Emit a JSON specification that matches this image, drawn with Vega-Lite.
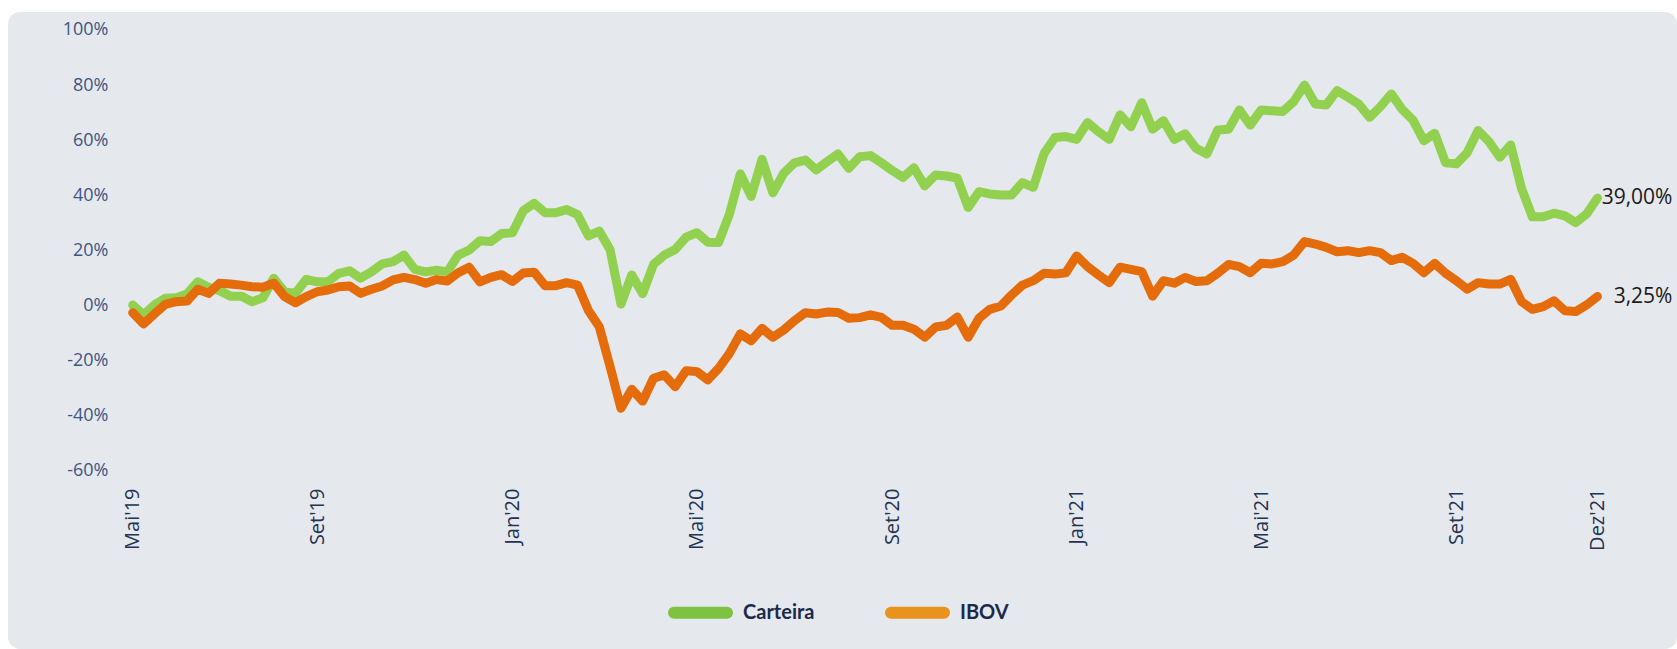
{
  "$schema": "https://vega.github.io/schema/vega-lite/v6.json",
  "width": 1669,
  "height": 637,
  "autosize": {"type": "none"},
  "padding": {"left": 8, "top": 12, "right": 0, "bottom": 0},
  "background": "#ffffff",
  "config": {"view": {"fill": "#E5E8ED", "stroke": null, "cornerRadius": 12}},
  "datasets": {
    "retornos": [
      {"t":0,"Carteira":0.2,"IBOV":-2.6},{"t":1,"Carteira":-3.4,"IBOV":-6.7},{"t":2,"Carteira":0.2,"IBOV":-3.1},{"t":3,"Carteira":2.6,"IBOV":0.4},{"t":4,"Carteira":2.8,"IBOV":1.4},{"t":5,"Carteira":4.2,"IBOV":1.6},{"t":6,"Carteira":8.6,"IBOV":5.9},{"t":7,"Carteira":6.6,"IBOV":4.4},{"t":8,"Carteira":5.4,"IBOV":8.1},{"t":9,"Carteira":3.4,"IBOV":7.8},
      {"t":10,"Carteira":3.4,"IBOV":7.4},{"t":11,"Carteira":1.4,"IBOV":6.8},{"t":12,"Carteira":2.8,"IBOV":6.6},{"t":13,"Carteira":9.9,"IBOV":8.1},{"t":14,"Carteira":5.0,"IBOV":3.2},{"t":15,"Carteira":4.4,"IBOV":1.0},{"t":16,"Carteira":9.5,"IBOV":3.2},{"t":17,"Carteira":8.6,"IBOV":5.0},{"t":18,"Carteira":8.6,"IBOV":5.6},{"t":19,"Carteira":11.7,"IBOV":6.8},
      {"t":20,"Carteira":12.6,"IBOV":7.1},{"t":21,"Carteira":9.9,"IBOV":4.4},{"t":22,"Carteira":12.2,"IBOV":5.9},{"t":23,"Carteira":15.1,"IBOV":7.1},{"t":24,"Carteira":15.9,"IBOV":9.3},{"t":25,"Carteira":18.3,"IBOV":10.2},{"t":26,"Carteira":13.1,"IBOV":9.4},{"t":27,"Carteira":12.2,"IBOV":8.1},{"t":28,"Carteira":12.8,"IBOV":9.4},{"t":29,"Carteira":12.2,"IBOV":8.9},
      {"t":30,"Carteira":18.3,"IBOV":11.9},{"t":31,"Carteira":20.1,"IBOV":13.9},{"t":32,"Carteira":23.5,"IBOV":8.6},{"t":33,"Carteira":23.2,"IBOV":10.2},{"t":34,"Carteira":26.1,"IBOV":11.2},{"t":35,"Carteira":26.4,"IBOV":8.7},{"t":36,"Carteira":34.4,"IBOV":11.8},{"t":37,"Carteira":37.1,"IBOV":12.1},{"t":38,"Carteira":33.7,"IBOV":7.2},{"t":39,"Carteira":33.7,"IBOV":7.2},
      {"t":40,"Carteira":34.8,"IBOV":8.3},{"t":41,"Carteira":33.0,"IBOV":7.4},{"t":42,"Carteira":25.3,"IBOV":-1.8},{"t":43,"Carteira":27.0,"IBOV":-7.7},{"t":44,"Carteira":20.2,"IBOV":-22.2},{"t":45,"Carteira":0.5,"IBOV":-37.3},{"t":46,"Carteira":11.1,"IBOV":-30.4},{"t":47,"Carteira":4.3,"IBOV":-34.7},{"t":48,"Carteira":14.9,"IBOV":-26.4},{"t":49,"Carteira":18.3,"IBOV":-25.2},
      {"t":50,"Carteira":20.3,"IBOV":-29.5},{"t":51,"Carteira":24.8,"IBOV":-23.7},{"t":52,"Carteira":26.4,"IBOV":-24.0},{"t":53,"Carteira":23.0,"IBOV":-27.0},{"t":54,"Carteira":22.9,"IBOV":-22.8},{"t":55,"Carteira":33.2,"IBOV":-17.4},{"t":56,"Carteira":47.8,"IBOV":-10.3},{"t":57,"Carteira":39.6,"IBOV":-12.8},{"t":58,"Carteira":53.1,"IBOV":-8.3},{"t":59,"Carteira":40.9,"IBOV":-11.5},
      {"t":60,"Carteira":48.0,"IBOV":-8.9},{"t":61,"Carteira":51.8,"IBOV":-5.5},{"t":62,"Carteira":52.8,"IBOV":-2.6},{"t":63,"Carteira":49.2,"IBOV":-3.1},{"t":64,"Carteira":52.2,"IBOV":-2.4},{"t":65,"Carteira":55.0,"IBOV":-2.5},{"t":66,"Carteira":49.8,"IBOV":-4.6},{"t":67,"Carteira":54.0,"IBOV":-4.4},{"t":68,"Carteira":54.4,"IBOV":-3.4},{"t":69,"Carteira":51.8,"IBOV":-4.3},
      {"t":70,"Carteira":49.0,"IBOV":-7.2},{"t":71,"Carteira":46.5,"IBOV":-7.2},{"t":72,"Carteira":50.0,"IBOV":-8.6},{"t":73,"Carteira":43.4,"IBOV":-11.5},{"t":74,"Carteira":47.4,"IBOV":-7.8},{"t":75,"Carteira":47.0,"IBOV":-7.2},{"t":76,"Carteira":46.2,"IBOV":-4.2},{"t":77,"Carteira":35.6,"IBOV":-11.5},{"t":78,"Carteira":41.3,"IBOV":-4.6},{"t":79,"Carteira":40.5,"IBOV":-1.4},
      {"t":80,"Carteira":40.1,"IBOV":-0.2},{"t":81,"Carteira":40.1,"IBOV":3.8},{"t":82,"Carteira":44.6,"IBOV":7.4},{"t":83,"Carteira":42.9,"IBOV":9.0},{"t":84,"Carteira":55.2,"IBOV":11.7},{"t":85,"Carteira":61.0,"IBOV":11.4},{"t":86,"Carteira":61.3,"IBOV":11.9},{"t":87,"Carteira":60.3,"IBOV":18.0},{"t":88,"Carteira":66.4,"IBOV":14.1},{"t":89,"Carteira":63.1,"IBOV":11.1},
      {"t":90,"Carteira":60.3,"IBOV":8.3},{"t":91,"Carteira":69.2,"IBOV":13.9},{"t":92,"Carteira":64.9,"IBOV":13.1},{"t":93,"Carteira":73.6,"IBOV":12.3},{"t":94,"Carteira":64.0,"IBOV":3.4},{"t":95,"Carteira":67.1,"IBOV":9.0},{"t":96,"Carteira":60.3,"IBOV":8.1},{"t":97,"Carteira":62.3,"IBOV":10.2},{"t":98,"Carteira":57.1,"IBOV":8.7},{"t":99,"Carteira":55.0,"IBOV":9.0},
      {"t":100,"Carteira":63.7,"IBOV":11.7},{"t":101,"Carteira":64.0,"IBOV":14.9},{"t":102,"Carteira":71.0,"IBOV":14.1},{"t":103,"Carteira":65.5,"IBOV":11.9},{"t":104,"Carteira":71.0,"IBOV":15.3},{"t":105,"Carteira":70.7,"IBOV":15.1},{"t":106,"Carteira":70.4,"IBOV":15.9},{"t":107,"Carteira":74.0,"IBOV":18.3},{"t":108,"Carteira":80.0,"IBOV":23.2},{"t":109,"Carteira":73.1,"IBOV":22.3},
      {"t":110,"Carteira":72.8,"IBOV":21.1},{"t":111,"Carteira":78.0,"IBOV":19.5},{"t":112,"Carteira":75.6,"IBOV":19.9},{"t":113,"Carteira":73.1,"IBOV":19.2},{"t":114,"Carteira":68.3,"IBOV":19.9},{"t":115,"Carteira":72.2,"IBOV":19.2},{"t":116,"Carteira":76.8,"IBOV":16.3},{"t":117,"Carteira":71.2,"IBOV":17.5},{"t":118,"Carteira":67.3,"IBOV":15.3},{"t":119,"Carteira":59.8,"IBOV":11.9},
      {"t":120,"Carteira":62.5,"IBOV":15.3},{"t":121,"Carteira":51.8,"IBOV":11.7},{"t":122,"Carteira":51.4,"IBOV":9.0},{"t":123,"Carteira":55.5,"IBOV":5.9},{"t":124,"Carteira":63.5,"IBOV":8.3},{"t":125,"Carteira":59.5,"IBOV":7.8},{"t":126,"Carteira":53.8,"IBOV":7.8},{"t":127,"Carteira":58.3,"IBOV":9.5},{"t":128,"Carteira":42.5,"IBOV":1.4},{"t":129,"Carteira":32.2,"IBOV":-1.4},
      {"t":130,"Carteira":32.2,"IBOV":-0.4},{"t":131,"Carteira":33.5,"IBOV":1.7},{"t":132,"Carteira":32.5,"IBOV":-1.9},{"t":133,"Carteira":30.1,"IBOV":-2.2},{"t":134,"Carteira":33.2,"IBOV":0.2},{"t":135,"Carteira":39.0,"IBOV":3.25}
    ],
    "rotulos": [
      {"t": 135, "valor": 39.0, "rotulo": "39,00%"},
      {"t": 135, "valor": 3.25, "rotulo": "3,25%"}
    ]
  },
  "encoding": {
    "x": {
      "field": "t", "type": "quantitative",
      "scale": {"domain": [-11.493, 142.33], "nice": false, "zero": false},
      "axis": {
        "values": [0, 17, 35, 52, 70, 87, 104, 122, 135],
        "labelExpr": "[\"Mai'19\",\"Set'19\",\"Jan'20\",\"Mai'20\",\"Set'20\",\"Jan'21\",\"Mai'21\",\"Set'21\",\"Dez'21\"][indexof([0,17,35,52,70,87,104,122,135], datum.value)]",
        "labelAngle": 270, "labelAlign": "right", "labelBaseline": "middle",
        "domain": false, "ticks": false, "grid": false, "title": null,
        "offset": -166, "labelPadding": 5,
        "labelFont": "Open Sans", "labelFontSize": 20, "labelColor": "#233352",
        "labelFlush": false, "labelOverlap": false, "labelBound": false
      }
    }
  },
  "layer": [
    {
      "data": {"name": "retornos"},
      "mark": {"type": "line", "strokeWidth": 9, "strokeCap": "round", "strokeJoin": "round", "color": "#92D050"},
      "encoding": {
        "y": {
          "field": "Carteira", "type": "quantitative",
          "scale": {"domain": [-124.68, 106.53], "nice": false, "zero": false},
          "axis": {
            "values": [-60, -40, -20, 0, 20, 40, 60, 80, 100],
            "labelExpr": "datum.value + '%'",
            "domain": false, "ticks": false, "grid": false, "title": null,
            "offset": -100, "labelPadding": 0,
            "labelFont": "Open Sans", "labelFontSize": 18, "labelColor": "#3E5683",
            "labelFlush": false, "labelOverlap": false, "labelBound": false
          }
        }
      }
    },
    {
      "data": {"name": "retornos"},
      "mark": {"type": "line", "strokeWidth": 9, "strokeCap": "round", "strokeJoin": "round", "color": "#E46C0A"},
      "encoding": {
        "y": {"field": "IBOV", "type": "quantitative", "title": null}
      }
    },
    {
      "data": {"name": "retornos"},
      "transform": [{"filter": "datum.t < 0"}, {"fold": ["Carteira", "IBOV"], "as": ["serie", "valor"]}],
      "mark": {"type": "line", "strokeWidth": 12, "strokeCap": "round"},
      "encoding": {
        "y": {"field": "valor", "type": "quantitative", "title": null},
        "color": {
          "field": "serie", "type": "nominal",
          "scale": {"domain": ["Carteira", "IBOV"], "range": ["#7DC242", "#E8931E"]},
          "legend": {
            "orient": "none", "legendX": 660, "legendY": 568,
            "direction": "horizontal", "title": null,
            "symbolType": "stroke", "symbolStrokeWidth": 12, "symbolSize": 2809,
            "labelFont": "Lato", "labelFontSize": 20, "labelFontWeight": "bold", "labelColor": "#1B2A4A",
            "labelOffset": 10, "columnPadding": 52, "padding": 0,
            "encoding": {"symbols": {"strokeCap": {"value": "round"}}}
          }
        }
      }
    },
    {
      "data": {"name": "rotulos"},
      "mark": {"type": "text", "align": "right", "baseline": "middle", "dx": 75, "font": "Open Sans", "fontSize": 21, "color": "#1A1A1A"},
      "encoding": {
        "y": {"field": "valor", "type": "quantitative", "title": null},
        "text": {"field": "rotulo"}
      }
    }
  ]
}
